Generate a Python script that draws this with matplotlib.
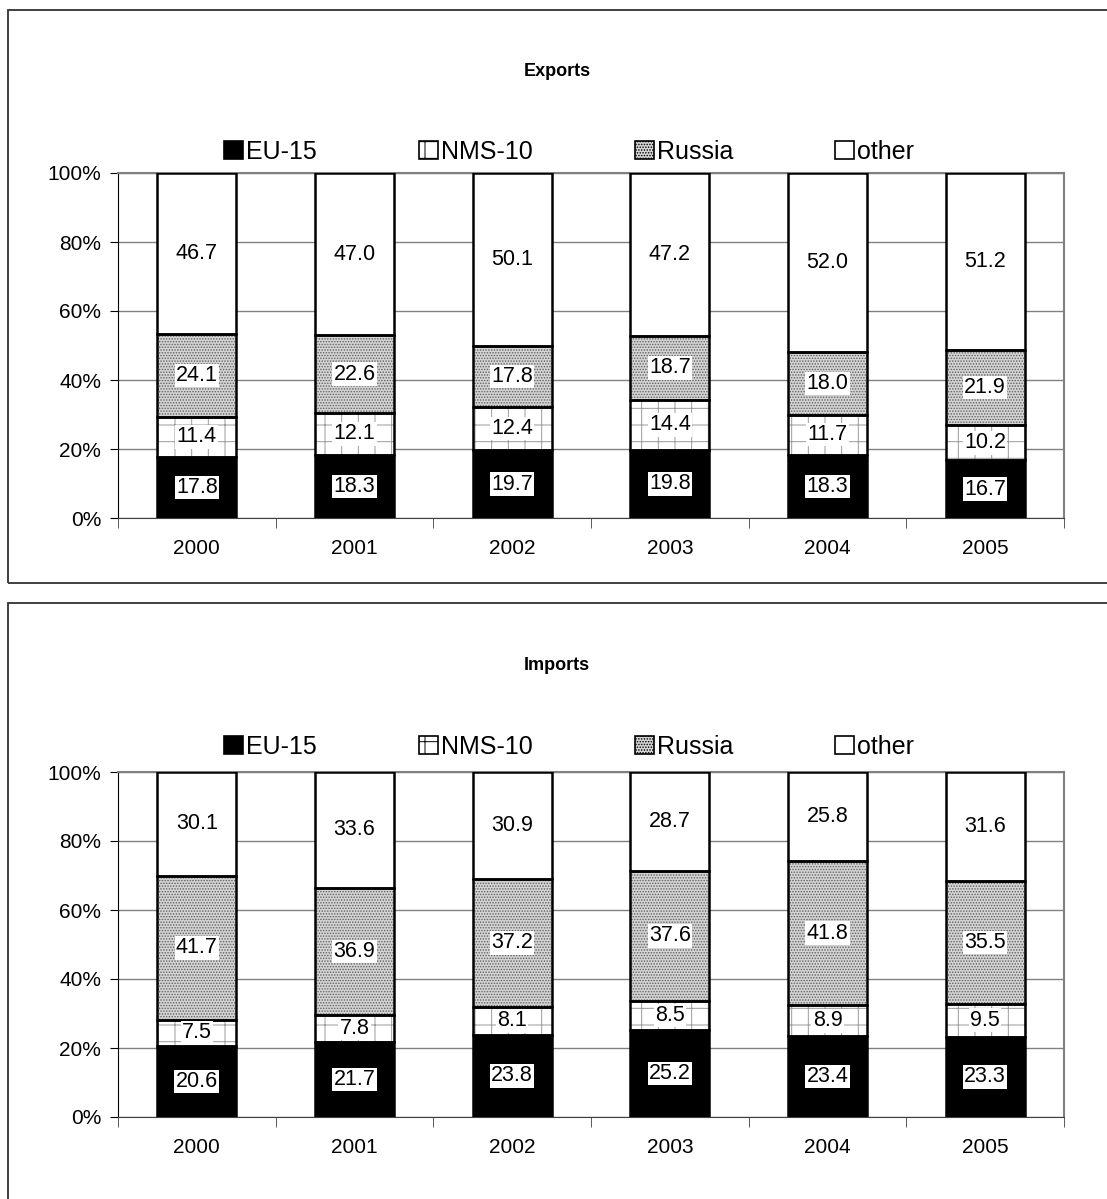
import numpy as np
import matplotlib
matplotlib.use("Agg")
import matplotlib.pyplot as plt
from matplotlib.patches import Rectangle, Patch

plt.rcParams['font.family'] = ['Liberation Sans', 'DejaVu Sans']
plt.rcParams['hatch.linewidth'] = 0.7

years = ['2000', '2001', '2002', '2003', '2004', '2005']
series = ['EU-15', 'NMS-10', 'Russia', 'other']

exp_eu15 = [17.8, 18.3, 19.7, 19.8, 18.3, 16.7]
exp_nms10 = [11.4, 12.1, 12.4, 14.4, 11.7, 10.2]
exp_russia = [24.1, 22.6, 17.8, 18.7, 18.0, 21.9]
exp_other = [46.7, 47.0, 50.1, 47.2, 52.0, 51.2]

imp_eu15 = [20.6, 21.7, 23.8, 25.2, 23.4, 23.3]
imp_nms10 = [7.5, 7.8, 8.1, 8.5, 8.9, 9.5]
imp_russia = [41.7, 36.9, 37.2, 37.6, 41.8, 35.5]
imp_other = [30.1, 33.6, 30.9, 28.7, 25.8, 31.6]

# fill style per series: (facecolor, hatch, hatch colour)
styles = [
    ('black', None, 'black'),
    ('white', '+', '#9a9a9a'),
    ('#d4d4d4', '......', '#606060'),
    ('white', None, 'black'),
]


def draw_panel(fig, rect, title, data, title_y, legend_y):
    ax = fig.add_axes(rect)
    vals = np.array(data)
    pct = vals / vals.sum(axis=0) * 100
    x = np.arange(len(years))
    bottom = np.zeros(len(years))
    for i, name in enumerate(series):
        fc, hatch, hc = styles[i]
        # fill + hatch first (hatch takes the edge colour), then a black outline
        ax.bar(x, pct[i], 0.5, bottom=bottom, facecolor=fc, hatch=hatch,
               edgecolor=hc, linewidth=0, zorder=3)
        bars = ax.bar(x, pct[i], 0.5, bottom=bottom, fill=False,
                      edgecolor='black', linewidth=1.8, zorder=4)
        for b, v in zip(bars, vals[i]):
            ax.text(b.get_x() + b.get_width() / 2, b.get_y() + b.get_height() / 2,
                    f'{v:.1f}', ha='center', va='center', fontsize=15.5, zorder=5,
                    bbox=dict(facecolor='white', edgecolor='none', pad=1.0))
        bottom += pct[i]

    ax.set_xlim(-0.5, len(years) - 0.5)
    ax.set_ylim(0, 100)
    ax.set_yticks(np.arange(0, 101, 20))
    ax.set_yticklabels([f'{t}%' for t in range(0, 101, 20)], fontsize=15)
    ax.set_xticks(x)
    ax.set_xticklabels(years, fontsize=15)
    ax.set_xticks(np.arange(-0.5, len(years)), minor=True)
    ax.tick_params(axis='x', which='major', length=0, pad=15)
    ax.tick_params(axis='x', which='minor', length=7, direction='out', color='#404040')
    ax.tick_params(axis='y', length=6, direction='out', pad=6)
    ax.yaxis.grid(True, color='#808080', linewidth=1.0, zorder=0)
    ax.set_axisbelow(True)
    for s in ['top', 'right']:
        ax.spines[s].set_color('#808080')
        ax.spines[s].set_linewidth(1.5)
    ax.spines['left'].set_color('black')
    ax.spines['bottom'].set_color('#404040')

    fig.text(0.503, title_y, title, ha='center', va='center',
             fontsize=13, fontweight='bold')
    handles = [Patch(facecolor=s[0], hatch=s[1], edgecolor='black', linewidth=1.2)
               for s in styles]
    fig.legend(handles, series, loc='center', bbox_to_anchor=(0.514, legend_y),
               ncol=4, frameon=False, fontsize=18, handlelength=0.75,
               handleheight=0.75, handletextpad=0.12, columnspacing=4.1)
    return ax


fig = plt.figure(figsize=(11.07, 11.99), dpi=100)

# panel borders
fig.patches.append(Rectangle((8 / 1107, 1 - 583 / 1199), 1.2, 573 / 1199,
                             transform=fig.transFigure, fill=False,
                             edgecolor='#303030', linewidth=1.3))
fig.patches.append(Rectangle((8 / 1107, -0.1), 1.2, 0.1 + 1 - 603 / 1199,
                             transform=fig.transFigure, fill=False,
                             edgecolor='#303030', linewidth=1.3))

left = 118 / 1107
width = (1064 - 118) / 1107
draw_panel(fig, [left, 1 - 518 / 1199, width, 345 / 1199], 'Exports',
           [exp_eu15, exp_nms10, exp_russia, exp_other],
           1 - 71 / 1199, 1 - 152 / 1199)
draw_panel(fig, [left, 1 - 1117 / 1199, width, 345 / 1199], 'Imports',
           [imp_eu15, imp_nms10, imp_russia, imp_other],
           1 - 665 / 1199, 1 - 747 / 1199)

fig.savefig('out.png', dpi=100)
